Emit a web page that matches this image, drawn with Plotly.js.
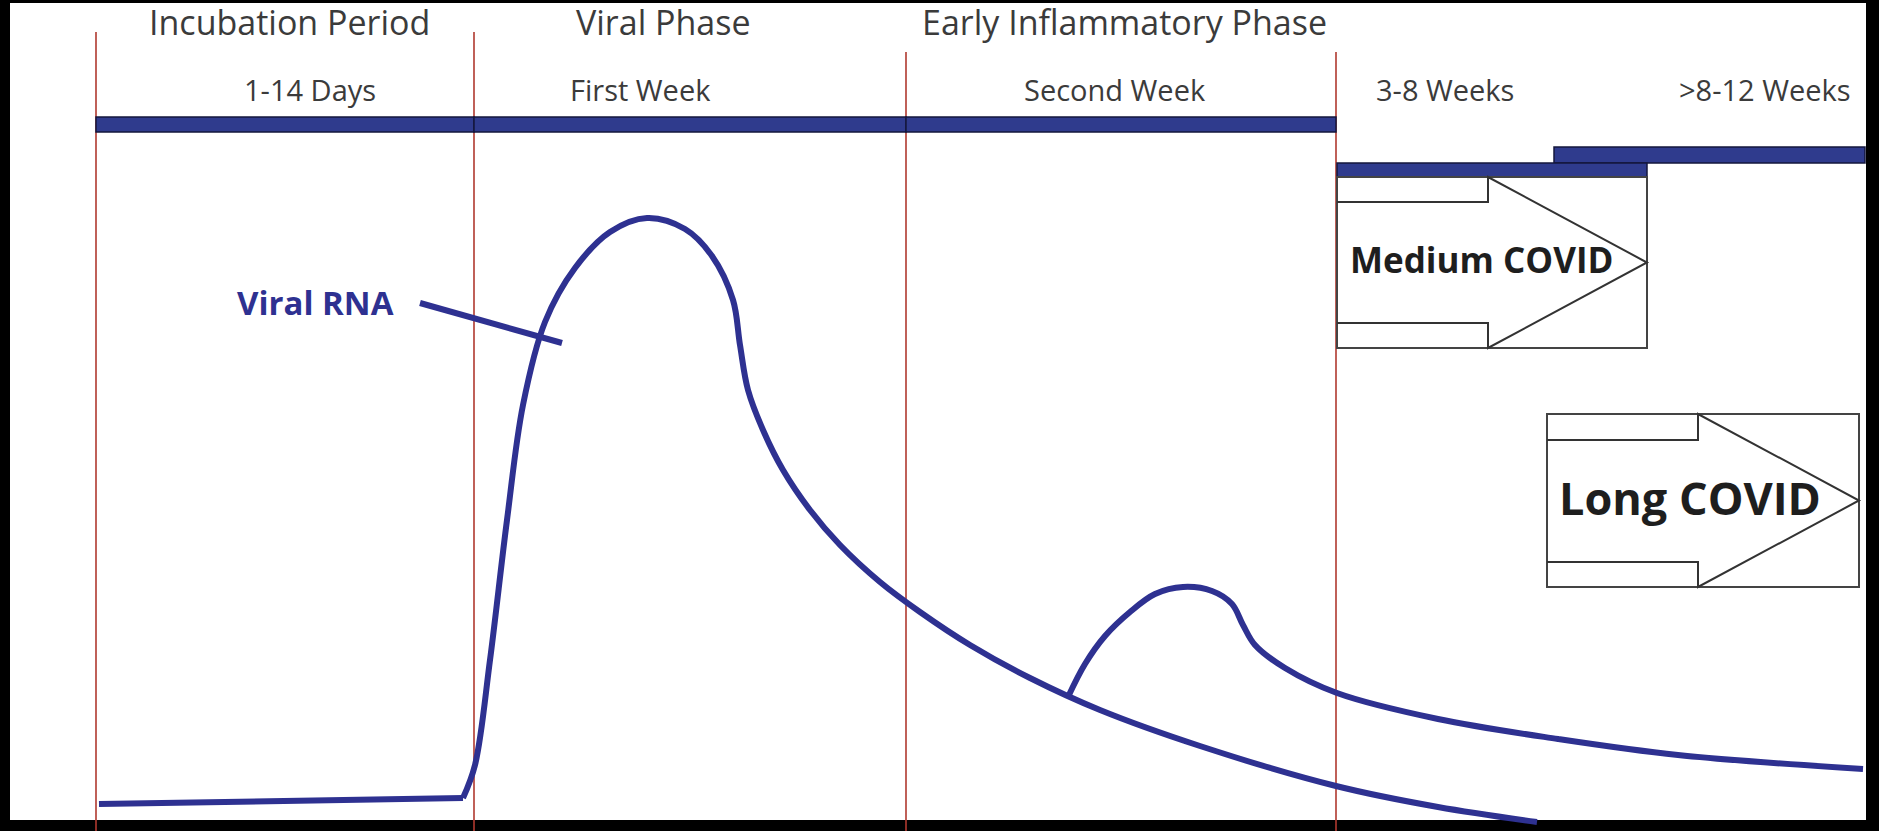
<!DOCTYPE html>
<html><head><meta charset="utf-8">
<script src="https://cdn.plot.ly/plotly-3.0.1.min.js"></script>
<style>html,body{margin:0;padding:0;background:#000;} #chart{width:1879px;height:831px;}</style>
</head><body><div id="chart"></div>
<script>
// ---- data (diagram units = reference pixels) ----
const phaseDividers = [96, 474, 906, 1336];
const dividerTops = [32, 32, 52, 52];
const phaseTitles = ["Incubation Period", "Viral Phase", "Early Inflammatory Phase"];
const phaseTitleX = [289, 663, 1124];
const periodLabels = ["1-14 Days", "First Week", "Second Week", "3-8 Weeks", ">8-12 Weeks"];
const periodLabelX = [310, 640, 1115, 1445, 1765];
const timelineX0 = [96, 474, 906, 1554, 1337];
const timelineX1 = [474, 906, 1336, 1865, 1647];
const timelineY0 = [117, 117, 117, 147, 163];
const timelineY1 = [132, 132, 132, 163, 177];

const baselineX = [99, 463];
const baselineY = [804, 798];
const viralX = [463, 475, 490, 507, 523, 545, 575, 610, 647, 685, 712, 733, 740, 748, 763, 783, 810, 840, 880, 920, 970, 1030, 1100, 1200, 1336, 1438, 1537];
const viralY = [798, 765, 660, 520, 405, 322, 268, 232, 218, 229, 256, 300, 345, 390, 430, 470, 510, 545, 582, 612, 645, 678, 710, 746, 786, 807, 822];
const reboundX = [1068, 1085, 1105, 1130, 1155, 1183, 1212, 1232, 1243, 1255, 1285, 1337, 1438, 1558, 1678, 1863];
const reboundY = [697, 664, 636, 612, 594, 587, 591, 604, 625, 645, 668, 693, 719, 739, 755, 769];
const pointerX = [420, 562];
const pointerY = [303, 343];
const curveLabel = "Viral RNA";
const curveLabelX = 315, curveLabelY = 302;

const stageLabels = ["Medium COVID", "Long COVID"];
const stageFontSize = [35, 45];
const stageLabelX = [1481, 1690];
const stageLabelY = [259, 497];
const boxX0 = [1337, 1547], boxX1 = [1647, 1859];
const boxY0 = [177, 414], boxY1 = [348, 587];
const shaftX1 = [1488, 1698], shaftY0 = [202, 440], shaftY1 = [323, 562];

// ---- styles ----
const NAVY = "#2e3191";
const BAR = "#2f3b8d";
const RED = "#b0392f";
const GREY = "#3b3b3b";
const W = 1879, H = 831;

const shapes = [];
// black frame
shapes.push({type:"rect", xref:"x", yref:"y", x0:0, x1:10, y0:0, y1:H, fillcolor:"#000", line:{width:0}, layer:"below"});
shapes.push({type:"rect", xref:"x", yref:"y", x0:0, x1:W, y0:0, y1:3, fillcolor:"#000", line:{width:0}, layer:"below"});
shapes.push({type:"rect", xref:"x", yref:"y", x0:1866, x1:W, y0:0, y1:H, fillcolor:"#000", line:{width:0}, layer:"below"});
shapes.push({type:"rect", xref:"x", yref:"y", x0:0, x1:W, y0:820, y1:H, fillcolor:"#000", line:{width:0}, layer:"below"});
// phase dividers
phaseDividers.forEach((x, i) => shapes.push({type:"line", xref:"x", yref:"y", x0:x, x1:x, y0:dividerTops[i], y1:H, line:{color:RED, width:1.6}, layer:"below"}));
// timeline bars
timelineX0.forEach((x0, i) => shapes.push({type:"rect", xref:"x", yref:"y", x0:x0, x1:timelineX1[i], y0:timelineY0[i], y1:timelineY1[i], fillcolor:BAR, line:{color:"#14173d", width:1.5}, layer:"below"}));
// arrow boxes
stageLabels.forEach((s, i) => {
  shapes.push({type:"rect", xref:"x", yref:"y", x0:boxX0[i], x1:boxX1[i], y0:boxY0[i], y1:boxY1[i], fillcolor:"rgba(0,0,0,0)", line:{color:"#444", width:2}, layer:"below"});
  const mid = (boxY0[i] + boxY1[i]) / 2;
  const p = `M${boxX0[i]},${shaftY0[i]} L${shaftX1[i]},${shaftY0[i]} L${shaftX1[i]},${boxY0[i]} L${boxX1[i]},${mid} L${shaftX1[i]},${boxY1[i]} L${shaftX1[i]},${shaftY1[i]} L${boxX0[i]},${shaftY1[i]}`;
  shapes.push({type:"path", xref:"x", yref:"y", path:p, fillcolor:"rgba(0,0,0,0)", line:{color:"#333", width:2}, layer:"below"});
});

const annotations = [];
phaseTitles.forEach((t, i) => annotations.push({text:t, x:phaseTitleX[i], y:22, xref:"x", yref:"y", showarrow:false, xanchor:"center", yanchor:"middle", font:{family:"Open Sans", size:34, color:GREY}}));
periodLabels.forEach((t, i) => annotations.push({text:t, x:periodLabelX[i], y:89, xref:"x", yref:"y", showarrow:false, xanchor:"center", yanchor:"middle", font:{family:"Open Sans", size:29, color:GREY}}));
stageLabels.forEach((t, i) => annotations.push({text:t, x:stageLabelX[i], y:stageLabelY[i], xref:"x", yref:"y", showarrow:false, xanchor:"center", yanchor:"middle", font:{family:"Open Sans", size:stageFontSize[i], color:"#1e1e1e", weight:700}}));
annotations.push({text:curveLabel, x:curveLabelX, y:curveLabelY, xref:"x", yref:"y", showarrow:false, xanchor:"center", yanchor:"middle", font:{family:"Open Sans", size:33, color:NAVY, weight:700}});

const lineStyle = {color:NAVY, width:6};
const traces = [
  {x:baselineX, y:baselineY, mode:"lines", line:Object.assign({shape:"linear"}, lineStyle), hoverinfo:"skip"},
  {x:viralX, y:viralY, mode:"lines", line:Object.assign({shape:"spline", smoothing:1}, lineStyle), hoverinfo:"skip"},
  {x:reboundX, y:reboundY, mode:"lines", line:Object.assign({shape:"spline", smoothing:1}, lineStyle), hoverinfo:"skip"},
  {x:pointerX, y:pointerY, mode:"lines", line:{color:NAVY, width:6}, hoverinfo:"skip"}
];

const layout = {
  width:W, height:H,
  margin:{l:0, r:0, t:0, b:0},
  paper_bgcolor:"#000", plot_bgcolor:"#fff",
  showlegend:false,
  xaxis:{range:[0, W], visible:false, showgrid:false, zeroline:false, fixedrange:true},
  yaxis:{range:[H, 0], visible:false, showgrid:false, zeroline:false, fixedrange:true},
  shapes:shapes, annotations:annotations
};
Plotly.newPlot("chart", traces, layout, {staticPlot:true, displayModeBar:false});
</script>
</body></html>
